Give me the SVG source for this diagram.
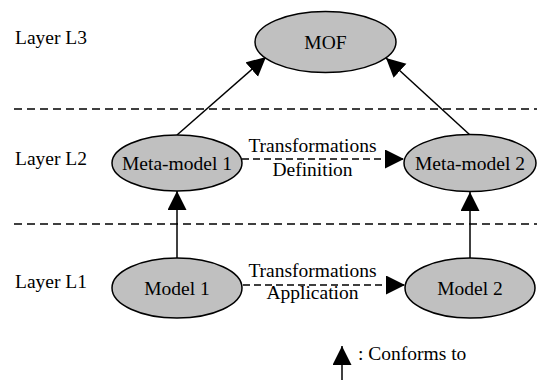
<svg xmlns="http://www.w3.org/2000/svg" width="537" height="380" viewBox="0 0 537 380">
<defs>
<style>
text{font-size:19.5px;fill:#000}
.node ellipse{fill:#c0c0c0;stroke:#000;stroke-width:1.5}
.sep{stroke:#000;stroke-width:1.5;stroke-dasharray:8 5;fill:none}
.edge{stroke:#000;stroke-width:1.5;fill:none}
.dash{stroke-dasharray:7 4}
</style>
<marker id="ah" markerUnits="userSpaceOnUse" markerWidth="20" markerHeight="20" refX="19" refY="9.5" orient="auto">
<path d="M0,0 L19,9.5 L0,19 z" fill="#000"/>
</marker>
</defs>
<rect width="537" height="380" fill="#fff"/>
<g id="layers" font-family="Liberation Serif">
<text x="15" y="44">Layer L3</text>
<text x="15" y="165">Layer L2</text>
<text x="15" y="288">Layer L1</text>
<line class="sep" x1="14" y1="109" x2="537" y2="109"/>
<line class="sep" x1="14" y1="224" x2="537" y2="224"/>
</g>
<g id="connectors" font-family="Liberation Serif">
<path class="edge" d="M177,135 L266,57" marker-end="url(#ah)"/>
<path class="edge" d="M470,135 L386,58" marker-end="url(#ah)"/>
<path class="edge" d="M177,258 L177,191" marker-end="url(#ah)"/>
<path class="edge" d="M470,258 L470,192" marker-end="url(#ah)"/>
<path class="edge dash" d="M242,159 L404,159" marker-end="url(#ah)"/>
<path class="edge dash" d="M243,285 L405,285" marker-end="url(#ah)"/>
<text x="312.5" y="152" text-anchor="middle">Transformations</text>
<text x="312.5" y="176" text-anchor="middle">Definition</text>
<text x="312.5" y="277" text-anchor="middle">Transformations</text>
<text x="312.5" y="299" text-anchor="middle">Application</text>
</g>
<g id="mof" class="node" font-family="Liberation Serif"><ellipse cx="325.5" cy="42" rx="70.5" ry="30.5"/><text x="325.5" y="49" text-anchor="middle">MOF</text></g>
<g id="metamodel1" class="node" font-family="Liberation Serif"><ellipse cx="177" cy="163" rx="65" ry="28"/><text x="177" y="170" text-anchor="middle">Meta-model 1</text></g>
<g id="metamodel2" class="node" font-family="Liberation Serif"><ellipse cx="470" cy="163" rx="66" ry="28.5"/><text x="470" y="170" text-anchor="middle">Meta-model 2</text></g>
<g id="model1" class="node" font-family="Liberation Serif"><ellipse cx="177" cy="288" rx="65" ry="30"/><text x="177" y="295" text-anchor="middle">Model 1</text></g>
<g id="model2" class="node" font-family="Liberation Serif"><ellipse cx="470" cy="288" rx="65" ry="30"/><text x="470" y="295" text-anchor="middle">Model 2</text></g>
<g id="legend" font-family="Liberation Serif">
<path class="edge" d="M342,380 L342,346" marker-end="url(#ah)"/>
<text x="358" y="360">: Conforms to</text>
</g>
</svg>
